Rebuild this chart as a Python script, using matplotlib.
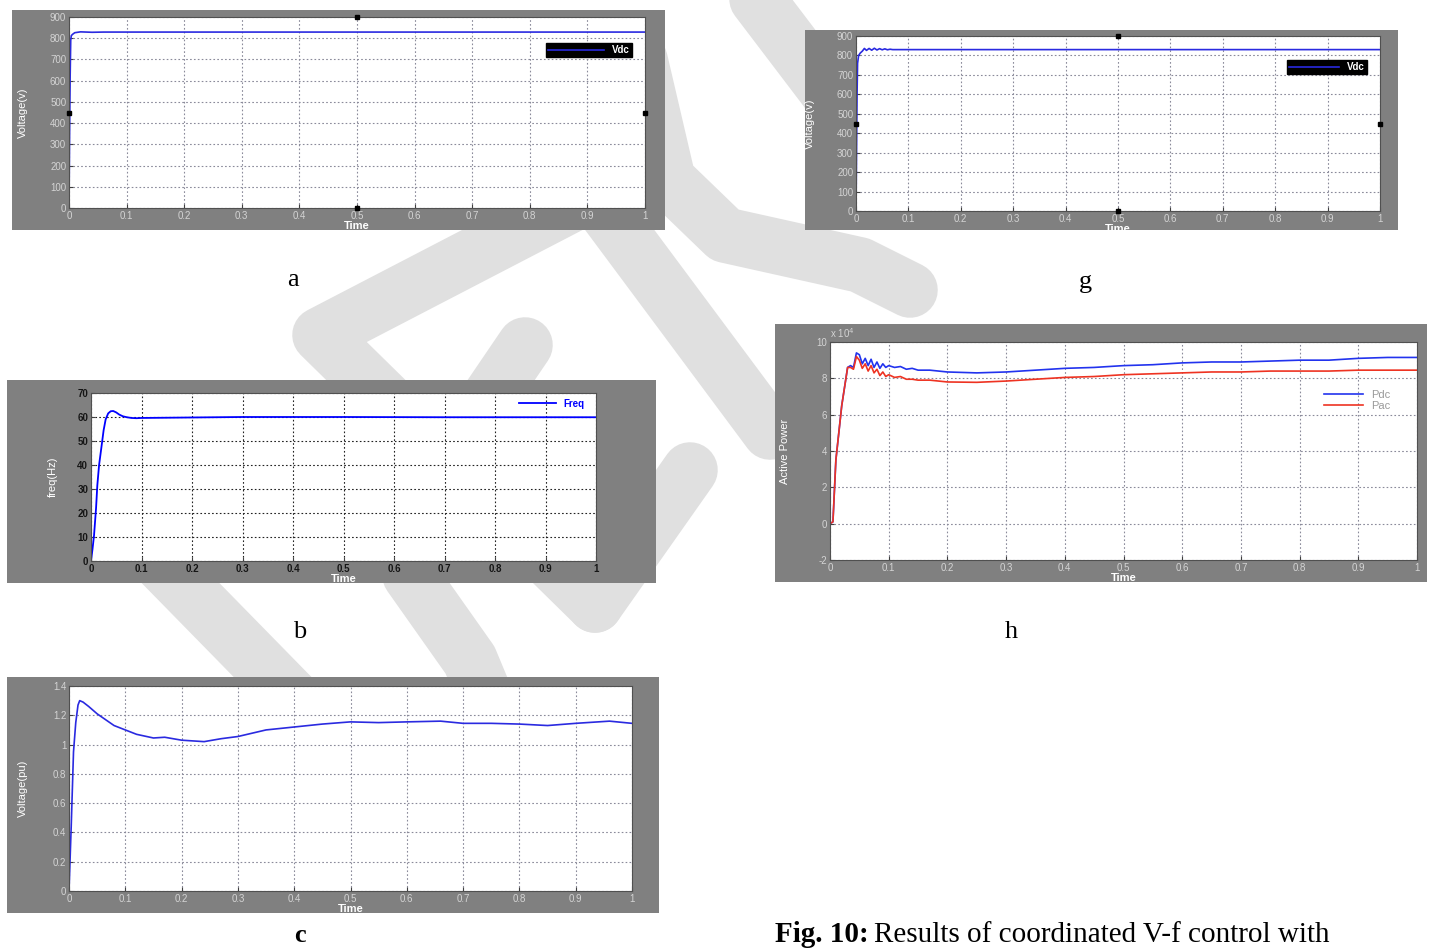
import numpy as np
import matplotlib
matplotlib.use("Agg")
import matplotlib.pyplot as plt

# --- data ---
ticks_t = [0, 0.1, 0.2, 0.3, 0.4, 0.5, 0.6, 0.7, 0.8, 0.9, 1.0]
tick_t_labels = ["0", "0.1", "0.2", "0.3", "0.4", "0.5", "0.6", "0.7", "0.8", "0.9", "1"]

# (a) Vdc
t_vdc_a = [0, 0.001, 0.002, 0.003, 0.004, 0.006, 0.01, 0.02, 0.04, 0.06, 0.1, 0.3, 0.5, 0.7, 1.0]
vdc_a = [0, 350, 620, 790, 812, 818, 826, 830, 828, 829, 829, 829, 829, 829, 829]

# (g) Vdc
t_vdc_g = [0, 0.001, 0.002, 0.003, 0.005, 0.008, 0.012, 0.016, 0.02, 0.025, 0.03, 0.035,
           0.04, 0.045, 0.05, 0.055, 0.06, 0.065, 0.07, 0.1, 0.5, 1.0]
vdc_g = [0, 300, 600, 760, 800, 812, 822, 836, 826, 836, 827, 837,
         828, 835, 829, 834, 829, 832, 830, 830, 830, 830]

# (b) frequency
t_freq = [0, 0.003, 0.006, 0.01, 0.0125, 0.016, 0.021, 0.025, 0.029, 0.034, 0.039, 0.044,
          0.05, 0.056, 0.063, 0.071, 0.08, 0.09, 0.1, 0.15, 0.3, 0.5, 0.7, 1.0]
freq = [0, 5, 10.7, 22, 31.5, 40, 48, 54.5, 59, 61.5, 62.4, 62.5,
        61.9, 61, 60.3, 59.9, 59.6, 59.5, 59.6, 59.7, 60, 60, 59.9, 59.9]

# (c) voltage pu
t_vpu = [0, 0.004, 0.008, 0.012, 0.016, 0.019, 0.025, 0.035, 0.05, 0.065, 0.08, 0.1, 0.12,
         0.15, 0.17, 0.2, 0.24, 0.27, 0.3, 0.35, 0.4, 0.45, 0.5, 0.55, 0.6, 0.66, 0.7,
         0.75, 0.8, 0.85, 0.9, 0.96, 1.0]
vpu = [0, 0.45, 0.95, 1.15, 1.27, 1.30, 1.29, 1.26, 1.21, 1.17, 1.13, 1.10, 1.07,
       1.045, 1.05, 1.03, 1.02, 1.04, 1.055, 1.10, 1.12, 1.14, 1.155, 1.15, 1.155, 1.16, 1.145,
       1.145, 1.14, 1.13, 1.145, 1.16, 1.145]

# (h) active power, in units of 1e4 W
t_p = [0, 0.005, 0.01, 0.02, 0.03, 0.035, 0.04, 0.045, 0.05, 0.055,
       0.06, 0.065, 0.07, 0.075, 0.08, 0.085, 0.09, 0.095, 0.1, 0.11,
       0.12, 0.13, 0.14, 0.15, 0.17, 0.2, 0.25, 0.3, 0.35, 0.4,
       0.45, 0.5, 0.55, 0.6, 0.65, 0.7, 0.75, 0.8, 0.85, 0.9, 0.95, 1.0]
pdc_e4 = [0, 0.1, 3.5, 6.5, 8.6, 8.7, 8.6, 9.4, 9.3, 8.8,
          9.1, 8.7, 9.05, 8.6, 8.9, 8.55, 8.8, 8.6, 8.7, 8.6,
          8.65, 8.5, 8.55, 8.45, 8.45, 8.35, 8.3, 8.35, 8.45, 8.55,
          8.6, 8.7, 8.75, 8.85, 8.9, 8.9, 8.95, 9.0, 9.0, 9.1, 9.15, 9.15]
pac_e4 = [0, 0.1, 3.5, 6.5, 8.6, 8.6, 8.5, 9.2, 9.0, 8.55,
          8.8, 8.4, 8.7, 8.3, 8.5, 8.15, 8.35, 8.1, 8.2, 8.05,
          8.1, 7.95, 7.95, 7.9, 7.9, 7.8, 7.78, 7.85, 7.95, 8.05,
          8.1, 8.2, 8.25, 8.3, 8.35, 8.35, 8.4, 8.4, 8.4, 8.45, 8.45, 8.45]

W, H = 1432, 948
GREY = "#808080"
fig = plt.figure(figsize=(W / 100, H / 100), dpi=100)
fig.patch.set_facecolor("white")


def rect(x0, y0, x1, y1):
    return [x0 / W, 1 - y1 / H, (x1 - x0) / W, (y1 - y0) / H]


# watermark in the background (pixel coords, y down)
bg = fig.add_axes([0, 0, 1, 1], zorder=0)
bg.set_xlim(0, W)
bg.set_ylim(H, 0)
bg.axis("off")
strokes = [
    [(580, 200), (320, 335), (595, 605)],
    [(690, 470), (595, 605)],
    [(590, 190), (770, 432)],
    [(60, 460), (300, 705)],
    [(525, 345), (440, 470), (410, 575), (470, 660), (495, 720)],
    [(640, 60), (668, 180), (725, 235), (860, 265), (910, 290)],
    [(735, -30), (830, 95)],
]
for s in strokes:
    xs, ys = zip(*s)
    bg.plot(xs, ys, color="#e0e0e0", lw=40, solid_capstyle="round", solid_joinstyle="round")


def panel(box, axbox, ylim, yticks, ylabels, ylab, ylab_x, dark=False):
    frame = fig.add_axes(rect(*box), zorder=1)
    frame.set_facecolor(GREY)
    frame.set_xticks([])
    frame.set_yticks([])
    for sp in frame.spines.values():
        sp.set_visible(False)

    ax = fig.add_axes(rect(*axbox), zorder=2)
    ax.set_facecolor("white")
    ax.set_xlim(0, 1)
    ax.set_ylim(*ylim)
    lab_col = "#151515" if dark else "#d4d4d4"
    fw = "bold" if dark else "normal"
    ax.set_xticks(ticks_t)
    ax.set_xticklabels(tick_t_labels, fontsize=7, color=lab_col, family="Liberation Sans",
                       fontweight=fw)
    ax.set_yticks(yticks)
    ax.set_yticklabels(ylabels, fontsize=7, color=lab_col, family="Liberation Sans",
                       fontweight=fw)
    ax.tick_params(direction="in", length=3, pad=2, colors="#404040", labelcolor=lab_col)
    ax.grid(True, linestyle=(0, (1.5, 2)), color="#222222" if dark else "#8a8a9a", lw=0.8)
    for sp in ax.spines.values():
        sp.set_color("#505050")
        sp.set_linewidth(0.8)
    ax.set_xlabel("Time", color="white", fontweight="bold", fontsize=8,
                  family="Liberation Sans", labelpad=0)
    ax.set_ylabel(ylab, color="white", fontsize=8, family="Liberation Sans")
    ax.yaxis.set_label_coords(ylab_x, 0.5)
    return ax


def handles(ax):
    for (x, y) in [(0, 0.5), (1, 0.5), (0.5, 0), (0.5, 1)]:
        ax.plot(x, y, "s", ms=3, color="black", transform=ax.transAxes, clip_on=False, zorder=5)


v_ticks = list(range(0, 901, 100))
v_labels = [str(v) for v in v_ticks]
leg_prop = {"size": 7, "weight": "bold", "family": "Liberation Sans"}

# (a)
ax_a = panel((12, 10, 665, 230), (69, 17, 645, 208), (0, 900), v_ticks, v_labels,
             "Voltage(v)", -0.071)
ax_a.plot(t_vdc_a, vdc_a, color="#2a2ae0", lw=1.2, label="Vdc")
handles(ax_a)
ax_a.legend(loc="upper right", bbox_to_anchor=(0.977, 0.864), borderaxespad=0,
            prop=leg_prop, facecolor="black", edgecolor="black", labelcolor="white",
            handlelength=5.8, borderpad=0.2, fancybox=False, framealpha=1)

# (g)
ax_g = panel((805, 30, 1398, 230), (856, 36, 1380, 211), (0, 900), v_ticks, v_labels,
             "Voltage(v)", -0.078)
ax_g.plot(t_vdc_g, vdc_g, color="#2a2ae0", lw=1.2, label="Vdc")
handles(ax_g)
ax_g.legend(loc="upper right", bbox_to_anchor=(0.975, 0.863), borderaxespad=0,
            prop=leg_prop, facecolor="black", edgecolor="black", labelcolor="white",
            handlelength=5.2, borderpad=0.2, fancybox=False, framealpha=1)

# (b)
f_ticks = list(range(0, 71, 10))
ax_b = panel((7, 380, 656, 583), (91, 393, 596, 561), (0, 70), f_ticks,
             [str(v) for v in f_ticks], "freq(Hz)", -0.065, dark=True)
ax_b.plot(t_freq, freq, color="#0000ff", lw=1.3, label="Freq")
ax_b.legend(loc="upper right", bbox_to_anchor=(0.985, 0.99), borderaxespad=0,
            prop=leg_prop, frameon=False, labelcolor="#0000ff", handlelength=3.8)

# (h)
p_ticks = [-2, 0, 2, 4, 6, 8, 10]
ax_h = panel((775, 324, 1427, 582), (830, 342, 1417, 560), (-2, 10), p_ticks,
             [str(v) for v in p_ticks], "Active Power", -0.068)
ax_h.plot(t_p, pdc_e4, color="#2233ee", lw=1.2, label="Pdc")
ax_h.plot(t_p, pac_e4, color="#ee3322", lw=1.2, label="Pac")
ax_h.text(0.0, 1.01, r"x 10$^4$", transform=ax_h.transAxes, fontsize=7,
          color="#d4d4d4", ha="left", va="bottom", family="Liberation Sans")
ax_h.legend(loc="upper right", bbox_to_anchor=(0.963, 0.8), borderaxespad=0,
            prop={"size": 8, "family": "Liberation Sans"}, frameon=False,
            labelcolor="#9a9a9a", handlelength=3.5, labelspacing=0.1)

# (c)
c_ticks = [0, 0.2, 0.4, 0.6, 0.8, 1.0, 1.2, 1.4]
ax_c = panel((7, 677, 659, 913), (69, 686, 632, 891), (0, 1.4), c_ticks,
             ["0", "0.2", "0.4", "0.6", "0.8", "1", "1.2", "1.4"], "Voltage(pu)", -0.073)
ax_c.plot(t_vpu, vpu, color="#2a2ae0", lw=1.2)

# sub-figure letters
serif = "Liberation Serif"
for x, y, s, w in [(293, 280, "a", "normal"), (1085, 282, "g", "normal"),
                   (300, 632, "b", "normal"), (1011, 632, "h", "normal"),
                   (300, 935, "c", "bold")]:
    fig.text(x / W, 1 - y / H, s, ha="center", va="center", fontsize=19,
             family=serif, fontweight=w)

# caption
r = fig.canvas.get_renderer()
t1 = fig.text(775 / W, 1 - 935 / H, "Fig. 10:", fontsize=21, family=serif,
              fontweight="bold", va="center", ha="left")
bb = t1.get_window_extent(renderer=r)
fig.text(bb.x1 / W + 5 / W, 1 - 935 / H, "Results of coordinated V-f control with",
         fontsize=21, family=serif, va="center", ha="left")

fig.savefig("out.png", dpi=100)
